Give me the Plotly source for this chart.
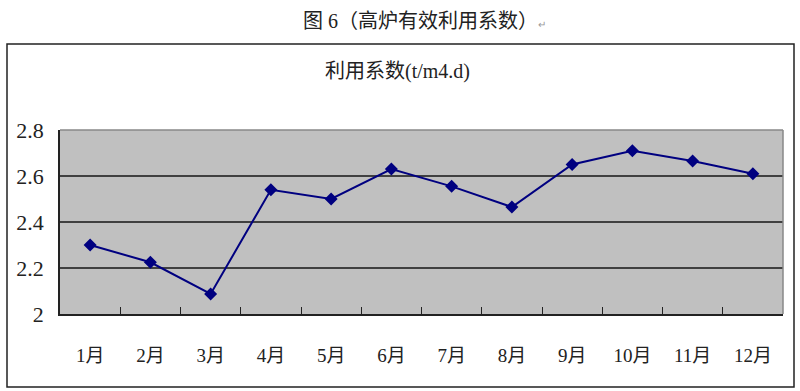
import plotly.graph_objects as go

months = ["1月", "2月", "3月", "4月", "5月", "6月", "7月", "8月", "9月", "10月", "11月", "12月"]
coef = [2.30, 2.225, 2.087, 2.54, 2.50, 2.63, 2.555, 2.465, 2.65, 2.71, 2.665, 2.61]
y_ticks = [2.0, 2.2, 2.4, 2.6, 2.8]
y_tick_text = ["2", "2.2", "2.4", "2.6", "2.8"]

FONT = "Liberation Serif, Noto Sans CJK SC, serif"

fig = go.Figure()
fig.add_trace(go.Scatter(
    x=months, y=coef, mode="lines+markers",
    line=dict(color="#000080", width=2),
    marker=dict(symbol="diamond", size=10, color="#000080"),
    showlegend=False,
))

L, R, T, B = 60, 783, 130, 314
W, H = 800, 391
pw, ph = R - L, B - T

def px(x):
    return (x - L) / pw

def py(y):
    return (B - y) / ph

fig.update_layout(
    width=W, height=H,
    margin=dict(l=L, r=W - R, t=T, b=H - B),
    paper_bgcolor="white",
    plot_bgcolor="#C0C0C0",
    font=dict(family=FONT, color="#222"),
    xaxis=dict(
        type="category", showgrid=False, zeroline=False,
        showline=True, linecolor="#222", linewidth=1.5,
        ticks="inside", tickson="boundaries", ticklen=7, tickcolor="#222",
        tickfont=dict(size=19, family=FONT), ticklabelstandoff=23,
        range=[-0.5, 11.5],
    ),
    yaxis=dict(
        range=[2.0, 2.8], tickvals=y_ticks, ticktext=y_tick_text,
        showgrid=True, gridcolor="#404040", gridwidth=1.5, zeroline=False,
        showline=True, linecolor="#222", linewidth=1.5,
        ticks="", tickfont=dict(size=22, family=FONT), ticklabelstandoff=10,
    ),
    shapes=[
        dict(type="rect", xref="paper", yref="paper",
             x0=px(7), x1=px(794), y0=py(387), y1=py(44),
             line=dict(color="#222", width=1.5), layer="below"),
        dict(type="line", xref="paper", yref="paper",
             x0=0, x1=1, y0=1, y1=1, line=dict(color="#888", width=1.5)),
        dict(type="line", xref="paper", yref="paper",
             x0=1, x1=1, y0=0, y1=1, line=dict(color="#888", width=1.5)),
    ],
    annotations=[
        dict(text="图 6（高炉有效利用系数）<span style='font-size:10px;color:#999'>↵</span>",
             xref="paper", yref="paper", x=px(424), y=py(21),
             xanchor="center", yanchor="middle", showarrow=False,
             font=dict(size=20, family=FONT, color="#222")),
        dict(text="利用系数(t/m4.d)",
             xref="paper", yref="paper", x=px(397), y=py(71),
             xanchor="center", yanchor="middle", showarrow=False,
             font=dict(size=20, family=FONT, color="#222")),
    ],
)

fig.write_html("out.html", config={"displayModeBar": False},
               post_script="document.body.style.margin='0';")
